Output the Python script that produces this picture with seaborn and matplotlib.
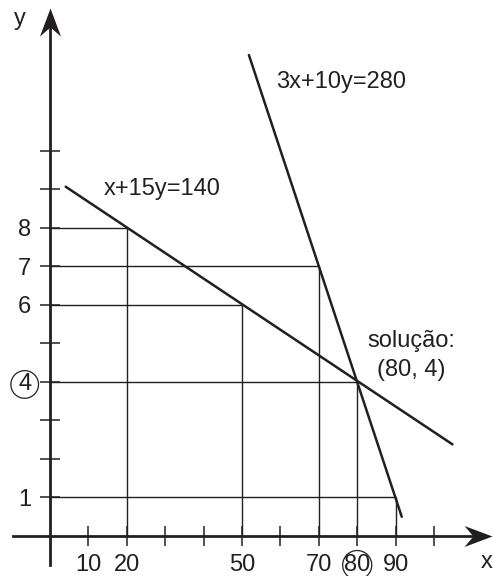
import numpy as np
import pandas as pd
import matplotlib
matplotlib.use("Agg")
import matplotlib.pyplot as plt
import seaborn as sns
from matplotlib.path import Path

# ---- data ----
line1_label = "x+15y=140"
line1_x = [4.1, 104.8]
line1_y = [9.07, 2.38]

line2_label = "3x+10y=280"
line2_x = [51.8, 91.6]
line2_y = [12.49, 0.50]

point_x = [20, 70, 50, 80, 90]
point_y = [8, 7, 6, 4, 1]

x_ticks = [10, 20, 30, 40, 50, 60, 70, 80, 90, 100]
x_tick_labels = ["10", "20", "", "", "50", "", "70", "80", "90", ""]
y_ticks = [1, 2, 3, 4, 5, 6, 7, 8, 9, 10]
y_tick_labels = ["1", "", "", "4", "", "6", "7", "8", "", ""]
circled_x = "80"
circled_y = "4"

solution_title = "solução:"
solution_text = "(80, 4)"

# ---- style ----
sns.set_style("white")
plt.rcParams["font.family"] = ["Liberation Sans", "DejaVu Sans"]
INK = "#231f20"
FS = 17

DPI = 100
fig = plt.figure(figsize=(4.93, 5.76), dpi=DPI)
ax = fig.add_axes([0, 0, 1, 1])
ax.set_xlim(-13.02, 115.36)
ax.set_ylim(-1.039, 13.92)

# guide segments from the axes to the points
ax.hlines(point_y, 0, point_x, color=INK, lw=1.0, zorder=2)
ax.vlines(point_x, 0, point_y, color=INK, lw=1.0, zorder=2)

# the two constraint lines
df1 = pd.DataFrame({"x": line1_x, "y": line1_y})
df2 = pd.DataFrame({"x": line2_x, "y": line2_y})
sns.lineplot(data=df1, x="x", y="y", ax=ax, color=INK, lw=1.8, zorder=3)
sns.lineplot(data=df2, x="x", y="y", ax=ax, color=INK, lw=1.8, zorder=3)

# axes through the origin
for s in ["top", "right"]:
    ax.spines[s].set_visible(False)
for s in ["left", "bottom"]:
    ax.spines[s].set_position(("data", 0))
    ax.spines[s].set_color(INK)
    ax.spines[s].set_linewidth(2.0)
    ax.spines[s].set_zorder(4)

x_tip, y_tip = 115.2, 13.7
ax.spines["bottom"].set_bounds(-9.6, x_tip - 2.6)
ax.spines["left"].set_bounds(-0.75, y_tip - 0.26)

# notched arrowheads
arrow_len_pt = 28 * 72 / DPI
ms = 2 * arrow_len_pt
right_arrow = Path([(0, 0), (-2, 0.75), (-1.36, 0), (-2, -0.75), (0, 0)])
up_arrow = Path([(0, 0), (0.75, -2), (0, -1.36), (-0.75, -2), (0, 0)])
ax.plot([x_tip], [0], marker=right_arrow, ms=ms, color=INK, mew=0, clip_on=False, zorder=5)
ax.plot([0], [y_tip], marker=up_arrow, ms=ms, color=INK, mew=0, clip_on=False, zorder=5)

# ticks
ax.set_xticks(x_ticks, x_tick_labels)
ax.set_yticks(y_ticks, y_tick_labels)
ax.tick_params(axis="both", which="major", bottom=True, left=True, top=False, right=False,
               direction="inout", length=14, width=1.1, color=INK,
               labelcolor=INK, labelsize=FS)
ax.tick_params(axis="x", pad=6.0)
ax.tick_params(axis="y", pad=6.5)
ax.set_xlabel("")
ax.set_ylabel("")

for lab in ax.get_xticklabels():
    if lab.get_text() == circled_x:
        lab.set_bbox(dict(boxstyle="circle,pad=0.06", fc="none", ec=INK, lw=0.9))
for lab in ax.get_yticklabels():
    if lab.get_text() == circled_y:
        lab.set_bbox(dict(boxstyle="circle,pad=0.12", fc="none", ec=INK, lw=0.9))

# annotations
ax.text(-7.8, 13.27, "y", fontsize=FS, color=INK, ha="center", va="baseline")
ax.text(115.2, -0.82, "x", fontsize=FS, color=INK, ha="right", va="baseline")
ax.text(14.1, 8.86, line1_label, fontsize=FS, color=INK, ha="left", va="baseline")
ax.text(58.9, 11.63, line2_label, fontsize=FS, color=INK, ha="left", va="baseline")
ax.text(94.0, 4.90, solution_title, fontsize=FS, color=INK, ha="center", va="baseline")
ax.text(94.0, 4.16, solution_text, fontsize=FS, color=INK, ha="center", va="baseline")

fig.savefig("out.png", dpi=DPI)
